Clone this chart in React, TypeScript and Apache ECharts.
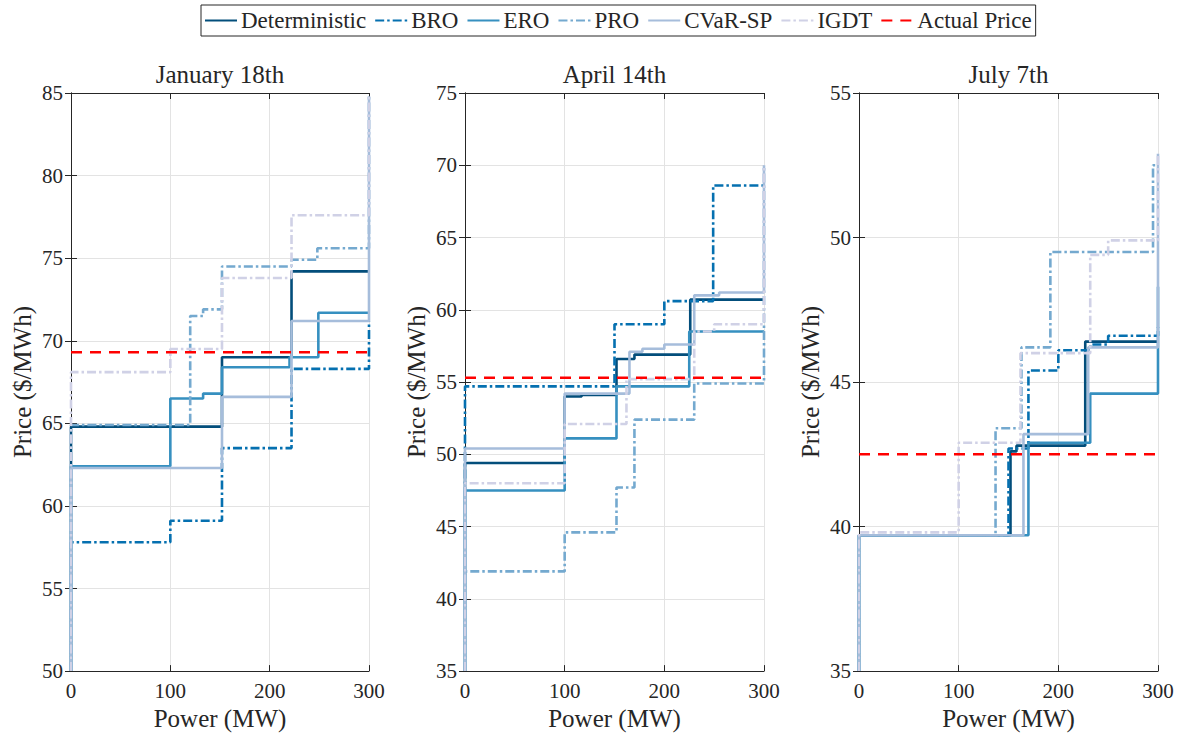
import React, { useEffect, useRef } from "react";
import * as echarts from "echarts";

const FONT = "'Liberation Serif', 'Times New Roman', serif";
const INK = "#262626";

const SERIES_NAMES = ["Deterministic", "BRO", "ERO", "PRO", "CVaR-SP", "IGDT"];
const SERIES_COLORS = ["#034e7b", "#0570b0", "#3690c0", "#74a9cf", "#a6bddb", "#d0d1e6"];
const SERIES_DASHDOT = [false, true, false, true, false, true];
const ACTUAL_NAME = "Actual Price";

const PANEL_TITLES = ["January 18th", "April 14th", "July 7th"];
const Y_MIN = [50, 35, 35];
const Y_MAX = [85, 75, 55];
const X_MIN = 0;
const X_MAX = 300;
const X_INTERVAL = 100;
const Y_INTERVAL = 5;

// ---- January 18th: step breakpoints (MW) and price levels ($/MWh), end = top of final vertical
const janDetBreaks = [0, 152, 222];
const janDetPrices = [64.8, 69.0, 74.2];
const janDetEnd = 74.2;
const janBroBreaks = [0, 100, 152, 222];
const janBroPrices = [57.8, 59.1, 63.5, 68.3];
const janBroEnd = 71.2;
const janEroBreaks = [0, 100, 133, 152, 220, 249];
const janEroPrices = [62.4, 66.5, 66.8, 68.4, 69.0, 71.7];
const janEroEnd = 71.7;
const janProBreaks = [0, 120, 133, 152, 222, 248];
const janProPrices = [64.9, 71.5, 71.9, 74.5, 74.9, 75.6];
const janProEnd = 84.8;
const janCvarBreaks = [0, 152, 222];
const janCvarPrices = [62.3, 66.6, 71.2];
const janCvarEnd = 84.8;
const janIgdtBreaks = [0, 100, 152, 222];
const janIgdtPrices = [68.1, 69.5, 73.8, 77.6];
const janIgdtEnd = 84.8;
const janActual = 69.3;

// ---- April 14th
const aprDetBreaks = [0, 100, 117, 152, 170, 226];
const aprDetPrices = [49.4, 54.0, 54.1, 56.6, 56.9, 60.7];
const aprDetEnd = 60.7;
const aprBroBreaks = [0, 150, 200, 249];
const aprBroPrices = [54.7, 59.0, 60.6, 68.6];
const aprBroEnd = 68.6;
const aprEroBreaks = [0, 100, 152, 225];
const aprEroPrices = [47.5, 51.1, 54.7, 58.5];
const aprEroEnd = 58.5;
const aprProBreaks = [0, 100, 152, 170, 230];
const aprProPrices = [41.9, 44.6, 47.7, 52.4, 54.9];
const aprProEnd = 70.0;
const aprCvarBreaks = [0, 100, 165, 178, 200, 230, 255];
const aprCvarPrices = [50.4, 54.2, 57.1, 57.3, 57.6, 61.0, 61.2];
const aprCvarEnd = 70.0;
const aprIgdtBreaks = [0, 100, 162, 230, 250];
const aprIgdtPrices = [48.0, 52.1, 55.2, 58.5, 59.0];
const aprIgdtEnd = 70.0;
const aprActual = 55.3;

// ---- July 7th
const julDetBreaks = [0, 152, 158, 227];
const julDetPrices = [39.7, 42.6, 42.8, 46.4];
const julDetEnd = 46.4;
const julBroBreaks = [0, 150, 170, 200, 232, 250];
const julBroPrices = [39.7, 42.7, 45.4, 46.1, 46.3, 46.6];
const julBroEnd = 46.9;
const julEroBreaks = [0, 170, 232];
const julEroPrices = [39.7, 42.9, 44.6];
const julEroEnd = 48.3;
const julProBreaks = [0, 137, 163, 192, 295];
const julProPrices = [39.7, 43.4, 46.2, 49.5, 52.5];
const julProEnd = 52.5;
const julCvarBreaks = [0, 165, 230];
const julCvarPrices = [39.7, 43.2, 46.2];
const julCvarEnd = 52.9;
const julIgdtBreaks = [0, 100, 162, 232, 250];
const julIgdtPrices = [39.8, 42.9, 46.0, 49.4, 49.9];
const julIgdtEnd = 52.9;
const julActual = 42.5;

const PANEL_STEPS = [
  [
    [janDetBreaks, janDetPrices, janDetEnd],
    [janBroBreaks, janBroPrices, janBroEnd],
    [janEroBreaks, janEroPrices, janEroEnd],
    [janProBreaks, janProPrices, janProEnd],
    [janCvarBreaks, janCvarPrices, janCvarEnd],
    [janIgdtBreaks, janIgdtPrices, janIgdtEnd],
  ],
  [
    [aprDetBreaks, aprDetPrices, aprDetEnd],
    [aprBroBreaks, aprBroPrices, aprBroEnd],
    [aprEroBreaks, aprEroPrices, aprEroEnd],
    [aprProBreaks, aprProPrices, aprProEnd],
    [aprCvarBreaks, aprCvarPrices, aprCvarEnd],
    [aprIgdtBreaks, aprIgdtPrices, aprIgdtEnd],
  ],
  [
    [julDetBreaks, julDetPrices, julDetEnd],
    [julBroBreaks, julBroPrices, julBroEnd],
    [julEroBreaks, julEroPrices, julEroEnd],
    [julProBreaks, julProPrices, julProEnd],
    [julCvarBreaks, julCvarPrices, julCvarEnd],
    [julIgdtBreaks, julIgdtPrices, julIgdtEnd],
  ],
] as [number[], number[], number][][];
const PANEL_ACTUAL = [janActual, aprActual, julActual];

const GRID_LEFTS = [71, 465, 859];
const GRID_WIDTHS = [298, 299, 299];
const GRID_TOP = 93;
const GRID_HEIGHT = 579;

function stepData(breaks: number[], prices: number[], end: number, yMin: number) {
  const d: number[][] = [[breaks[0], yMin], [breaks[0], prices[0]]];
  for (let i = 1; i < breaks.length; i++) d.push([breaks[i], prices[i]]);
  d.push([X_MAX, prices[prices.length - 1]]);
  d.push([X_MAX, end]);
  return d;
}

function buildOption() {
  const grid: any[] = [];
  const xAxis: any[] = [];
  const yAxis: any[] = [];
  const series: any[] = [];
  const title: any[] = [];
  const tickStyle = { show: true, inside: true, length: 6, lineStyle: { color: INK, width: 1 } };
  const lineStyle = { show: true, lineStyle: { color: INK, width: 1 } };
  const labelStyle = { color: INK, fontFamily: FONT, fontSize: 21 };

  for (let p = 0; p < 3; p++) {
    grid.push({ left: GRID_LEFTS[p], top: GRID_TOP, width: GRID_WIDTHS[p], height: GRID_HEIGHT });
    title.push({
      text: PANEL_TITLES[p],
      left: GRID_LEFTS[p] + GRID_WIDTHS[p] / 2,
      top: 62,
      textAlign: "center",
      padding: 0,
      textStyle: { fontFamily: FONT, fontSize: 25, fontWeight: "normal", color: INK },
    });
    xAxis.push({
      gridIndex: p, type: "value", min: X_MIN, max: X_MAX, interval: X_INTERVAL, position: "bottom",
      name: "Power (MW)", nameLocation: "middle", nameGap: 26,
      nameTextStyle: { fontFamily: FONT, fontSize: 25, color: INK },
      axisLine: lineStyle, axisTick: tickStyle,
      axisLabel: { ...labelStyle, margin: 9 },
      splitLine: { show: true, lineStyle: { color: "#e3e3e3", width: 1 } },
    });
    xAxis.push({
      gridIndex: p, type: "value", min: X_MIN, max: X_MAX, interval: X_INTERVAL, position: "top",
      axisLine: lineStyle, axisTick: tickStyle, axisLabel: { show: false }, splitLine: { show: false },
    });
    yAxis.push({
      gridIndex: p, type: "value", min: Y_MIN[p], max: Y_MAX[p], interval: Y_INTERVAL, position: "left",
      name: "Price ($/MWh)", nameLocation: "middle", nameGap: 36,
      nameTextStyle: { fontFamily: FONT, fontSize: 25, color: INK },
      axisLine: lineStyle, axisTick: tickStyle,
      axisLabel: { ...labelStyle, margin: 8 },
      splitLine: { show: true, lineStyle: { color: "#e3e3e3", width: 1 } },
    });
    yAxis.push({
      gridIndex: p, type: "value", min: Y_MIN[p], max: Y_MAX[p], interval: Y_INTERVAL, position: "right",
      axisLine: lineStyle, axisTick: tickStyle, axisLabel: { show: false }, splitLine: { show: false },
    });

    PANEL_STEPS[p].forEach(([b, pr, end], s) => {
      series.push({
        type: "line",
        name: SERIES_NAMES[s],
        xAxisIndex: p * 2,
        yAxisIndex: p * 2,
        step: "end",
        showSymbol: false,
        symbol: "none",
        data: stepData(b, pr, end, Y_MIN[p]),
        lineStyle: {
          color: SERIES_COLORS[s],
          width: 2.6,
          type: SERIES_DASHDOT[s] ? [9, 3, 2.5, 3] : "solid",
        },
        itemStyle: { color: SERIES_COLORS[s] },
      });
    });
    series.push({
      type: "line",
      name: ACTUAL_NAME,
      xAxisIndex: p * 2,
      yAxisIndex: p * 2,
      showSymbol: false,
      symbol: "none",
      data: [[X_MIN, PANEL_ACTUAL[p]], [X_MAX, PANEL_ACTUAL[p]]],
      lineStyle: { color: "#ff0000", width: 2.6, type: [11, 8] },
      itemStyle: { color: "#ff0000" },
    });
  }

  return {
    animation: false,
    backgroundColor: "#ffffff",
    title,
    legend: {
      left: 201,
      top: 5,
      data: [...SERIES_NAMES, ACTUAL_NAME],
      itemWidth: 32,
      itemHeight: 14,
      itemGap: 8,
      padding: [4, 4, 4, 3],
      borderColor: INK,
      borderWidth: 1,
      backgroundColor: "#ffffff",
      itemStyle: { opacity: 0 },
      textStyle: { fontFamily: FONT, fontSize: 23, color: INK, padding: [0, 0, 0, -1] },
    },
    grid,
    xAxis,
    yAxis,
    series,
  };
}

export default function App() {
  const ref = useRef<HTMLDivElement>(null);
  useEffect(() => {
    if (!ref.current) return;
    const chart = echarts.init(ref.current, undefined, { renderer: "svg" });
    chart.setOption(buildOption() as any);
    return () => chart.dispose();
  }, []);
  return (
    <div
      ref={ref}
      style={{ position: "absolute", left: 0, top: 0, width: 1184, height: 736, background: "#fff" }}
    />
  );
}
